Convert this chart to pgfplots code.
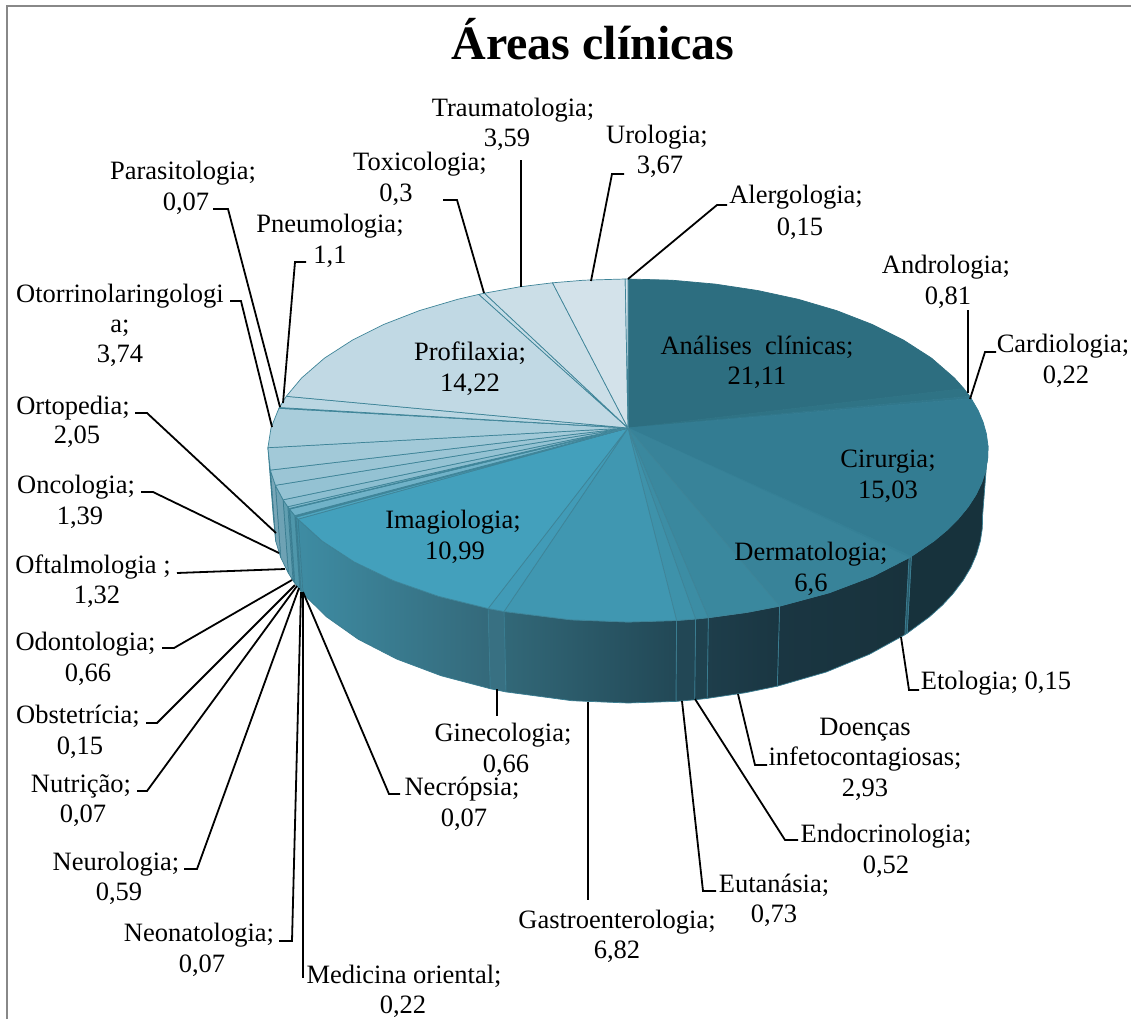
\documentclass[border=0pt]{standalone}
\usepackage{fontspec}
\setmainfont{Liberation Serif}
\usepackage{pgfplots}
\pgfplotsset{compat=1.18}
% top face colours
\definecolor{tA}{RGB}{45,110,128}\definecolor{tB}{RGB}{47,115,133}\definecolor{tC}{RGB}{49,119,139}
\definecolor{tD}{RGB}{51,124,146}\definecolor{tE}{RGB}{53,128,150}\definecolor{tF}{RGB}{56,131,153}
\definecolor{tG}{RGB}{58,136,158}\definecolor{tH}{RGB}{60,141,164}\definecolor{tI}{RGB}{62,146,170}
\definecolor{tJ}{RGB}{64,151,177}\definecolor{tK}{RGB}{65,155,183}\definecolor{tL}{RGB}{67,160,188}
\definecolor{tM}{RGB}{80,166,192}\definecolor{tN}{RGB}{92,170,195}\definecolor{tO}{RGB}{100,173,197}
\definecolor{tP}{RGB}{112,178,200}\definecolor{tQ}{RGB}{122,182,203}\definecolor{tR}{RGB}{130,186,205}
\definecolor{tS}{RGB}{140,190,208}\definecolor{tT}{RGB}{148,194,211}\definecolor{tU}{RGB}{155,197,213}
\definecolor{tV}{RGB}{162,201,216}\definecolor{tW}{RGB}{169,205,219}\definecolor{tX}{RGB}{178,210,222}
\definecolor{tY}{RGB}{186,214,226}\definecolor{tZ}{RGB}{193,217,228}\definecolor{ta}{RGB}{197,220,230}
\definecolor{tb}{RGB}{203,222,231}\definecolor{tc}{RGB}{211,226,234}\definecolor{td}{RGB}{214,228,236}
\definecolor{edge}{RGB}{62,132,152}
\definecolor{wedge}{RGB}{58,125,145}
\definecolor{frame}{RGB}{136,136,136}
% wall colours
\definecolor{wa}{RGB}{23,50,60}\definecolor{wb}{RGB}{40,90,105}\definecolor{wc}{RGB}{26,54,66}
\definecolor{wd}{RGB}{24,50,60}\definecolor{we}{RGB}{30,62,75}\definecolor{wf}{RGB}{31,66,79}
\definecolor{wg}{RGB}{34,71,85}\definecolor{wh}{RGB}{50,104,120}\definecolor{wi}{RGB}{34,72,86}
\definecolor{wj}{RGB}{56,112,130}\definecolor{wk}{RGB}{62,140,163}\definecolor{wl}{RGB}{52,105,122}
\definecolor{wm}{RGB}{66,142,164}\definecolor{wn}{RGB}{70,144,166}\definecolor{wo}{RGB}{72,146,167}
\definecolor{wp}{RGB}{78,150,170}\definecolor{wq}{RGB}{84,152,172}\definecolor{wr}{RGB}{90,155,174}
\definecolor{ws}{RGB}{96,158,176}\definecolor{wt}{RGB}{110,162,180}\definecolor{wu}{RGB}{120,166,183}
\definecolor{wv}{RGB}{132,172,188}
\pgfplotsset{
  top/.style={fill=#1,draw=edge,line width=0.7pt,line join=round},
  own/.style={fill=#1,draw=#1,line width=0.7pt,line join=round},
  wall/.style 2 args={left color=#1,right color=#2,draw=wedge,line width=0.7pt,line join=round},
  leader/.style={black,line width=1.8pt,line join=miter}
}
\newcommand{\T}[3]{\node[anchor=base,inner sep=0pt,font=\fontsize{26.5}{30}\selectfont] at (axis cs:#1,#2) {#3};}
\begin{document}
\begin{tikzpicture}
\begin{axis}[scale only axis,width=1131pt,height=1019pt,xmin=0,xmax=1131,ymin=0,ymax=1019,
  y dir=reverse,hide axis,clip=true]
% keeps the page as large as the axis box
\addplot[draw=none] coordinates {(0,0)(1131,1019)};
% frame
\addplot[frame,line width=2pt] coordinates {(6.5,1019) (6.5,6.5) (1131,6.5)};
% side wall
\addplot[wall={wa}{wa}] coordinates {(988,445.9)(987.7,458)(985.7,470.1)(981.8,482.3)(976.1,494.4)(968.2,506.7)(958,519.1)(947.4,529.7)(934,540.9)(911.4,556.3)(907.1,633.3)(929.4,616.9)(942.6,605)(953,593.7)(963.1,580.4)(970.9,567.3)(976.5,554.3)(980.3,541.2)(982.3,528.3)(982.6,515.3)(988,445.9)};
\addplot[wall={wb}{wb}] coordinates {(911.4,556.3)(909,557.7)(904.8,634.8)(907.1,633.3)(911.4,556.3)};
\addplot[wall={wc}{wd}] coordinates {(909,557.7)(873.1,576.1)(829.3,592.7)(779.6,606.1)(777.3,686.2)(826.3,672)(869.4,654.3)(904.8,634.8)(909,557.7)};
\addplot[wall={we}{wc}] coordinates {(779.6,606.1)(747.3,612.3)(708.3,617.7)(707.1,698.4)(745.5,692.7)(777.3,686.2)(779.6,606.1)};
\addplot[wall={wf}{wf}] coordinates {(708.3,617.7)(695.6,619)(694.6,699.8)(707.1,698.4)(708.3,617.7)};
\addplot[wall={wg}{wg}] coordinates {(695.6,619)(676.6,620.5)(675.9,701.4)(694.6,699.8)(695.6,619)};
\addplot[wall={wh}{wi}] coordinates {(676.6,620.5)(628,622)(570.9,619.8)(504,611.5)(505.9,691.9)(571.8,700.7)(628,703)(675.9,701.4)(676.6,620.5)};
\addplot[wall={wj}{wj}] coordinates {(504,611.5)(488.1,608.5)(490.2,688.7)(505.9,691.9)(504,611.5)};
\addplot[wall={wk}{wl}] coordinates {(488.1,608.5)(438.5,596.3)(393.3,580.6)(354.2,561.9)(322,540.9)(298,519.1)(303,593.7)(326.6,616.9)(358.3,639.3)(396.8,659.1)(441.3,675.8)(490.2,688.7)(488.1,608.5)};
\addplot[wall={wm}{wm}] coordinates {(298,519.1)(296.1,517)(301.1,591.5)(303,593.7)(298,519.1)};
\addplot[wall={wn}{wn}] coordinates {(296.1,517)(295.3,516.2)(300.3,590.6)(301.1,591.5)(296.1,517)};
\addplot[wall={wo}{wo}] coordinates {(295.3,516.2)(294.8,515.6)(299.8,590)(300.3,590.6)(295.3,516.2)};
\addplot[wall={wp}{wp}] coordinates {(294.8,515.6)(289.6,509.1)(294.7,583)(299.8,590)(294.8,515.6)};
\addplot[wall={wq}{wq}] coordinates {(289.6,509.1)(289.1,508.5)(294.2,582.4)(294.7,583)(289.6,509.1)};
\addplot[wall={wr}{wr}] coordinates {(289.1,508.5)(287.8,506.7)(293,580.5)(294.2,582.4)(289.1,508.5)};
\addplot[wall={ws}{ws}] coordinates {(287.8,506.7)(283.1,499.8)(288.3,573)(293,580.5)(287.8,506.7)};
\addplot[wall={wt}{wt}] coordinates {(283.1,499.8)(275.4,485.3)(280.7,557.5)(288.3,573)(283.1,499.8)};
\addplot[wall={wu}{wu}] coordinates {(275.4,485.3)(270.3,470.1)(275.7,541.2)(280.7,557.5)(275.4,485.3)};
\addplot[wall={wv}{wv}] coordinates {(270.3,470.1)(267.9,447.7)(273.3,517.2)(275.7,541.2)(270.3,470.1)};
% top face: apex (628,428), then the rim
\addplot[own=tA] coordinates {(628,428)(628,279)(672,280.2)(715.4,284.1)(757.7,290.5)(798.3,299.3)(836.6,310.6)(871.9,324.3)(903.7,340.2)(931.5,358.1)(954.3,377.9)(963.8,388.5)(628,428)};
\addplot[own=tB] coordinates {(628,428)(963.8,388.5)(969.7,396.3)(628,428)};
\addplot[own=tC] coordinates {(628,428)(969.7,396.3)(971.2,398.5)(628,428)};
\addplot[own=tD] coordinates {(628,428)(971.2,398.5)(978.2,410.6)(983.1,422.1)(986.4,433.9)(988,445.9)(987.7,458)(985.7,470.1)(981.8,482.3)(976.1,494.4)(968.2,506.7)(958,519.1)(947.4,529.7)(934,540.9)(911.4,556.3)(628,428)};
\addplot[own=tE] coordinates {(628,428)(911.4,556.3)(909,557.7)(628,428)};
\addplot[own=tF] coordinates {(628,428)(909,557.7)(873.1,576.1)(829.3,592.7)(779.6,606.1)(628,428)};
\addplot[top=tG] coordinates {(628,428)(779.6,606.1)(747.3,612.3)(708.3,617.7)(628,428)};
\addplot[top=tH] coordinates {(628,428)(708.3,617.7)(695.6,619)(628,428)};
\addplot[top=tI] coordinates {(628,428)(695.6,619)(676.6,620.5)(628,428)};
\addplot[top=tJ] coordinates {(628,428)(676.6,620.5)(628,622)(570.9,619.8)(504,611.5)(628,428)};
\addplot[top=tK] coordinates {(628,428)(504,611.5)(488.1,608.5)(628,428)};
\addplot[top=tL] coordinates {(628,428)(488.1,608.5)(438.5,596.3)(393.3,580.6)(354.2,561.9)(322,540.9)(298,519.1)(628,428)};
\addplot[top=tM] coordinates {(628,428)(298,519.1)(296.1,517)(628,428)};
\addplot[top=tN] coordinates {(628,428)(296.1,517)(295.3,516.2)(628,428)};
\addplot[top=tO] coordinates {(628,428)(295.3,516.2)(294.8,515.6)(628,428)};
\addplot[top=tP] coordinates {(628,428)(294.8,515.6)(289.6,509.1)(628,428)};
\addplot[top=tQ] coordinates {(628,428)(289.6,509.1)(289.1,508.5)(628,428)};
\addplot[top=tR] coordinates {(628,428)(289.1,508.5)(287.8,506.7)(628,428)};
\addplot[top=tS] coordinates {(628,428)(287.8,506.7)(283.1,499.8)(628,428)};
\addplot[top=tT] coordinates {(628,428)(283.1,499.8)(275.4,485.3)(628,428)};
\addplot[top=tU] coordinates {(628,428)(275.4,485.3)(270.3,470.1)(628,428)};
\addplot[top=tV] coordinates {(628,428)(270.3,470.1)(267.9,447.7)(628,428)};
\addplot[top=tW] coordinates {(628,428)(267.9,447.7)(271,428)(278.9,408.3)(628,428)};
\addplot[top=tX] coordinates {(628,428)(278.9,408.3)(279.4,407.5)(628,428)};
\addplot[top=tY] coordinates {(628,428)(279.4,407.5)(286.3,396.3)(628,428)};
\addplot[top=tZ] coordinates {(628,428)(286.3,396.3)(301.7,377.9)(324.5,358.1)(352.3,340.2)(384.1,324.3)(419.4,310.6)(457.7,299.3)(478.8,294.4)(628,428)};
\addplot[top=ta] coordinates {(628,428)(478.8,294.4)(484.4,293.2)(628,428)};
\addplot[top=tb] coordinates {(628,428)(484.4,293.2)(519.3,286.9)(552.5,282.8)(628,428)};
\addplot[top=tc] coordinates {(628,428)(552.5,282.8)(584,280.2)(625.2,279)(628,428)};
\addplot[top=td] coordinates {(628,428)(625.2,279)(628,279)(628,428)};
% leader lines
\addplot[leader] coordinates {(628,279)(717,205)(727,205)};
\addplot[leader] coordinates {(591,281)(612,174)(624,174)};
\addplot[leader] coordinates {(521,287)(521,160)};
\addplot[leader] coordinates {(484,293)(457,200)(443,200)};
\addplot[leader] coordinates {(283,403)(295,262)(306,262)};
\addplot[leader] coordinates {(280,407)(228,209)(213,209)};
\addplot[leader] coordinates {(272,427)(241,301)(230,301)};
\addplot[leader] coordinates {(276,533)(147,413)(135,413)};
\addplot[leader] coordinates {(279,553)(153,492)(141,492)};
\addplot[leader] coordinates {(285,569)(190,572.5)(177,573)};
\addplot[leader] coordinates {(292,580)(174,648)(162,648)};
\addplot[leader] coordinates {(295,585)(157,723)(146,723)};
\addplot[leader] coordinates {(297,586)(147,791)(137,791)};
\addplot[leader] coordinates {(299,588)(197,869)(184,869)};
\addplot[leader] coordinates {(301,592)(292,941)(279,941)};
\addplot[leader] coordinates {(303,592)(303,978)};
\addplot[leader] coordinates {(303,592)(389,794)(400,794)};
\addplot[leader] coordinates {(497,689)(497,716)};
\addplot[leader] coordinates {(588,702)(588,900)};
\addplot[leader] coordinates {(682,701)(703,891)(716,891)};
\addplot[leader] coordinates {(695,699)(785,840)(798,840)};
\addplot[leader] coordinates {(738,694)(755,765)(767,765)};
\addplot[leader] coordinates {(901,637)(909,690)(919,690)};
\addplot[leader] coordinates {(968,393)(968,310)};
\addplot[leader] coordinates {(970,399)(985,352)(996,352)};
% labels
\node[anchor=base,inner sep=0pt,font=\fontsize{48}{54}\selectfont\bfseries] at (axis cs:593,60) {Áreas clínicas};
\T{513}{117}{Traumatologia;}\T{507}{147}{3,59}
\T{657}{144}{Urologia;}\T{660}{174}{3,67}
\T{420}{171}{Toxicologia;}\T{396}{201}{0,3}
\T{796}{204}{Alergologia;}\T{800}{235}{0,15}
\T{183}{179}{Parasitologia;}\T{186}{210}{0,07}
\T{330}{232}{Pneumologia;}\T{330}{263}{1,1}
\T{946}{273}{Andrologia;}\T{948}{304}{0,81}
\T{1063}{352}{Cardiologia;}\T{1066}{383}{0,22}
\T{120}{302}{Otorrinolaringologi}\T{120}{332}{a;}\T{120}{362}{3,74}
\T{73}{414}{Ortopedia;}\T{77}{443}{2,05}
\T{76}{493}{Oncologia;}\T{80}{524}{1,39}
\T{93}{573}{Oftalmologia ;}\T{97}{603}{1,32}
\T{85.5}{650}{Odontologia;}\T{88}{681}{0,66}
\T{78}{723}{Obstetrícia;}\T{80}{754}{0,15}
\T{81}{792}{Nutrição;}\T{83}{822}{0,07}
\T{116}{870}{Neurologia;}\T{119}{900}{0,59}
\T{199}{941}{Neonatologia;}\T{202}{972}{0,07}
\T{404}{983}{Medicina oriental;}\T{403}{1013}{0,22}
\T{462}{795}{Necrópsia;}\T{464}{826}{0,07}
\T{503}{741}{Ginecologia;}\T{506}{772}{0,66}
\T{617}{928}{Gastroenterologia;}\T{617}{958}{6,82}
\T{774}{892}{Eutanásia;}\T{774}{922}{0,73}
\T{886}{842}{Endocrinologia;}\T{886}{873}{0,52}
\T{865}{735}{Doenças}\T{865}{765}{infetocontagiosas;}\T{865}{796}{2,93}
\T{996}{689}{Etologia; 0,15}
\T{757}{354}{Análises\ \ clínicas;}\T{757}{384}{21,11}
\T{470}{360}{Profilaxia;}\T{470}{391}{14,22}
\T{888}{467}{Cirurgia;}\T{888}{498}{15,03}
\T{811}{560}{Dermatologia;}\T{811}{591}{6,6}
\T{453}{528}{Imagiologia;}\T{455}{559}{10,99}
\end{axis}
\end{tikzpicture}
\end{document}
